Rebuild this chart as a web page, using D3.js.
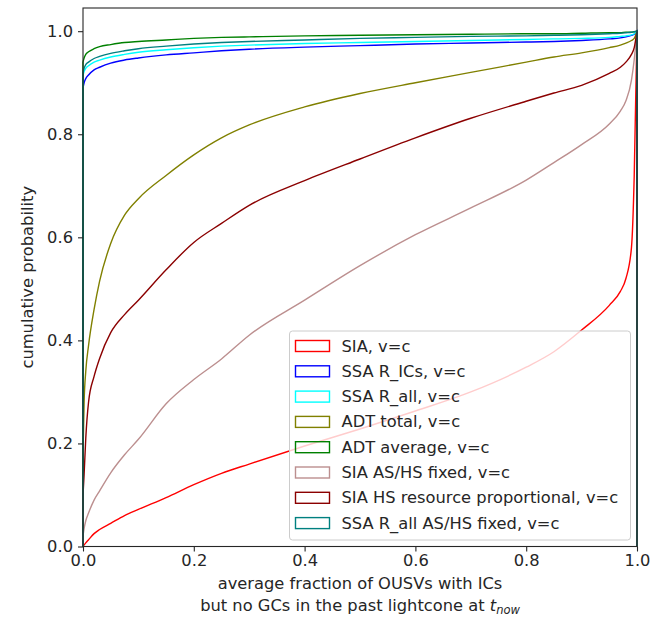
<!DOCTYPE html>
<html>
<head>
<meta charset="utf-8">
<script src="https://cdn.jsdelivr.net/npm/d3@7"></script>
<style>
    body { margin: 0; background: #fff; }
    svg text { font-family: "DejaVu Sans", sans-serif; fill: #262626; }
</style>
</head>
<body>
<svg id="drawing_region"></svg>
<script>
// shared x grid (fraction of OUSVs)
const xs = [0, 0.002, 0.005, 0.01, 0.02, 0.03, 0.05, 0.075, 0.1, 0.15, 0.2, 0.25, 0.3,
    0.4, 0.5, 0.6, 0.7, 0.8, 0.85, 0.9, 0.95, 0.97, 0.98, 0.99, 0.995, 1.0];

const sia = [0, 0.003, 0.007, 0.013, 0.025, 0.033, 0.045, 0.06, 0.072, 0.095, 0.12, 0.142, 0.16,
    0.195, 0.228, 0.263, 0.3, 0.348, 0.378, 0.42, 0.468, 0.495, 0.52, 0.58, 0.72, 1.0];
const ssaRICs = [0.89, 0.9, 0.908, 0.915, 0.925, 0.93, 0.938, 0.944, 0.948, 0.954, 0.958, 0.962, 0.965,
    0.969, 0.972, 0.975, 0.977, 0.979, 0.98, 0.982, 0.985, 0.987, 0.989, 0.992, 0.994, 1.0];
const ssaRall = [0.915, 0.922, 0.928, 0.933, 0.94, 0.944, 0.95, 0.955, 0.959, 0.964, 0.968, 0.971, 0.973,
    0.976, 0.978, 0.98, 0.982, 0.984, 0.985, 0.986, 0.988, 0.99, 0.991, 0.993, 0.995, 1.0];
const adtTotal = [0.18, 0.28, 0.34, 0.39, 0.46, 0.515, 0.588, 0.643, 0.675, 0.72, 0.76, 0.793, 0.818,
    0.853, 0.879, 0.9, 0.92, 0.94, 0.95, 0.958, 0.968, 0.973, 0.977, 0.982, 0.986, 1.0];
const adtAverage = [0.94, 0.948, 0.955, 0.96, 0.966, 0.97, 0.974, 0.978, 0.98, 0.983, 0.986, 0.988, 0.989,
    0.991, 0.992, 0.993, 0.994, 0.995, 0.995, 0.996, 0.997, 0.997, 0.998, 0.998, 0.999, 1.0];
const siaFixed = [0.02, 0.035, 0.05, 0.065, 0.09, 0.108, 0.143, 0.178, 0.208, 0.277, 0.324, 0.364, 0.41,
    0.478, 0.545, 0.605, 0.657, 0.711, 0.745, 0.78, 0.82, 0.845, 0.865, 0.905, 0.945, 1.0];
const siaHS = [0.1, 0.14, 0.21, 0.28, 0.33, 0.365, 0.415, 0.45, 0.478, 0.537, 0.59, 0.627, 0.662,
    0.71, 0.752, 0.793, 0.831, 0.864, 0.88, 0.895, 0.918, 0.93, 0.94, 0.955, 0.968, 1.0];
const ssaRallFixed = [0.92, 0.928, 0.935, 0.94, 0.947, 0.951, 0.957, 0.962, 0.966, 0.971, 0.975, 0.978, 0.98,
    0.983, 0.986, 0.988, 0.99, 0.991, 0.992, 0.993, 0.995, 0.996, 0.997, 0.998, 0.999, 1.0];

const labels = ["SIA, v=c", "SSA R_ICs, v=c", "SSA R_all, v=c", "ADT total, v=c", "ADT average, v=c",
    "SIA AS/HS fixed, v=c", "SIA HS resource proportional, v=c", "SSA R_all AS/HS fixed, v=c"];
const colors = ["#ff0000", "#0000ff", "#00ffff", "#808000", "#008000", "#bc8f8f", "#8b0000", "#008080"];
const values = [sia, ssaRICs, ssaRall, adtTotal, adtAverage, siaFixed, siaHS, ssaRallFixed];

const xTicks = [0, 0.2, 0.4, 0.6, 0.8, 1.0];
const yTicks = [0, 0.2, 0.4, 0.6, 0.8, 1.0];

const config = { width: 655, height: 634, left: 83, right: 637, top: 8, bottom: 546.5, font: "16.3px" };

const svg = d3.select("#drawing_region")
    .attr("width", config.width)
    .attr("height", config.height);

const x = d3.scaleLinear().domain([0, 1]).range([config.left, config.right]);
const y = d3.scaleLinear().domain([0, 1.045]).range([config.bottom, config.top]);

const series = labels.map((label, i) => ({
    label: label,
    color: colors[i],
    points: xs.map((xv, j) => ({ x: xv, y: values[i][j] }))
}));

// curves (step-histogram outline: up at x=0, down at x=1)
const line = d3.line().x(d => x(d.x)).y(d => y(d.y)).curve(d3.curveMonotoneX);

svg.append("g")
    .selectAll("path")
    .data(series)
    .enter()
    .append("path")
    .attr("d", d => `M${x(0)},${y(0)}L` + line(d.points).slice(1) + `L${x(1)},${y(0)}`)
    .attr("fill", "none")
    .attr("stroke", d => d.color)
    .attr("stroke-width", 1.4);

// axes
const xAxis = d3.axisBottom(x).tickValues(xTicks).tickSize(5).tickPadding(3).tickFormat(d3.format(".1f"));
const yAxis = d3.axisLeft(y).tickValues(yTicks).tickSize(5).tickPadding(5).tickFormat(d3.format(".1f"));

const gx = svg.append("g").attr("transform", `translate(0,${config.bottom})`).call(xAxis);
const gy = svg.append("g").attr("transform", `translate(${config.left},0)`).call(yAxis);
[gx, gy].forEach(g => {
    g.select(".domain").remove();
    g.selectAll("line").attr("stroke", "#262626").attr("stroke-width", 1.1);
    g.selectAll("text").attr("font-size", config.font).style("fill", "#262626");
});

// frame
svg.append("rect")
    .attr("x", config.left).attr("y", config.top)
    .attr("width", config.right - config.left).attr("height", config.bottom - config.top)
    .attr("fill", "none").attr("stroke", "#262626").attr("stroke-width", 1.1);

// axis labels
svg.append("text")
    .attr("transform", `translate(28,${(config.top + config.bottom) / 2}) rotate(-90)`)
    .attr("text-anchor", "middle")
    .attr("dominant-baseline", "middle")
    .attr("font-size", config.font)
    .text("cumulative probability");

const cx = (config.left + config.right) / 2;
svg.append("text")
    .attr("x", cx).attr("y", 589)
    .attr("text-anchor", "middle")
    .attr("font-size", config.font)
    .text("average fraction of OUSVs with ICs");

const l2 = svg.append("text")
    .attr("x", cx).attr("y", 611)
    .attr("text-anchor", "middle")
    .attr("font-size", config.font);
l2.append("tspan").text("but no GCs in the past lightcone at ");
l2.append("tspan").attr("font-style", "italic").text("t");
l2.append("tspan").attr("font-style", "italic").attr("font-size", "11.5px").attr("dy", 3).text("now");

// legend
const legend = { x: 289.5, y: 331, w: 341, h: 209, row: 25.3, first: 346 };
svg.append("rect")
    .attr("x", legend.x).attr("y", legend.y)
    .attr("width", legend.w).attr("height", legend.h)
    .attr("rx", 3)
    .attr("fill", "#fff").attr("fill-opacity", 0.8)
    .attr("stroke", "#cccccc").attr("stroke-width", 1);

const items = svg.append("g")
    .selectAll("g")
    .data(series)
    .enter()
    .append("g")
    .attr("transform", (d, i) => `translate(${legend.x}, ${legend.first + i * legend.row})`);

items.append("rect")
    .attr("x", 6).attr("y", -5.5)
    .attr("width", 34).attr("height", 11)
    .attr("fill", "none")
    .attr("stroke", d => d.color)
    .attr("stroke-width", 1.4);

items.append("text")
    .attr("x", 52).attr("y", 0)
    .attr("dominant-baseline", "central")
    .attr("font-size", config.font)
    .text(d => d.label);
</script>
</body>
</html>
